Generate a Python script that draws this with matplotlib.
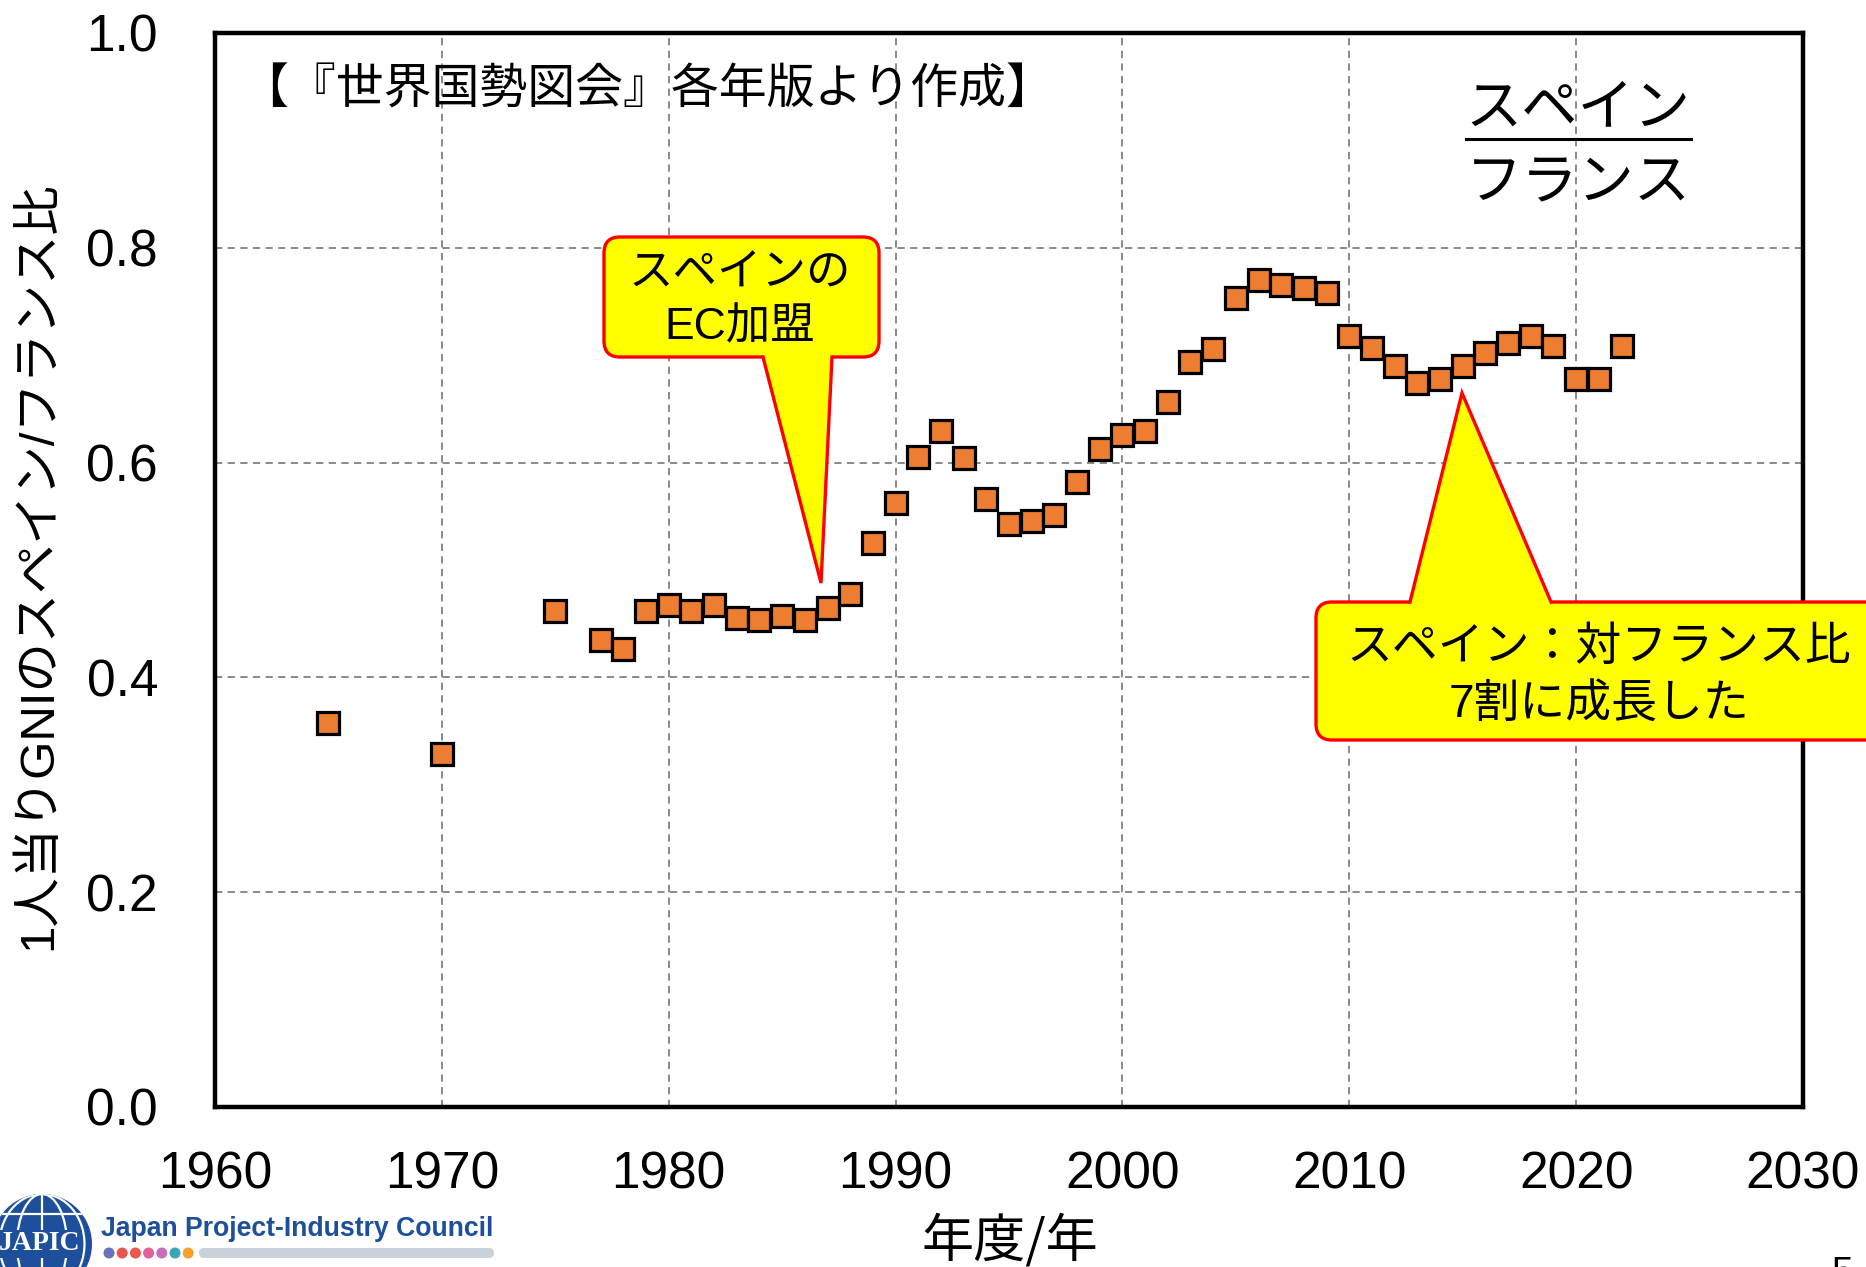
import matplotlib
matplotlib.use('Agg')
import matplotlib.pyplot as plt
import matplotlib.transforms as mtransforms
from matplotlib.patches import FancyBboxPatch, Polygon, Circle, Ellipse
from matplotlib.lines import Line2D

# ---------------- data ----------------
years = [1965, 1970, 1975, 1977, 1978, 1979, 1980, 1981, 1982, 1983, 1984,
         1985, 1986, 1987, 1988, 1989, 1990, 1991, 1992, 1993, 1994, 1995,
         1996, 1997, 1998, 1999, 2000, 2001, 2002, 2003, 2004, 2005, 2006,
         2007, 2008, 2009, 2010, 2011, 2012, 2013, 2014, 2015, 2016, 2017,
         2018, 2019, 2020, 2021, 2022]
ratio = [0.358, 0.329, 0.462, 0.435, 0.426, 0.462, 0.467, 0.462, 0.467, 0.455,
         0.453, 0.457, 0.453, 0.465, 0.478, 0.525, 0.562, 0.605, 0.629, 0.604,
         0.566, 0.543, 0.546, 0.551, 0.582, 0.613, 0.626, 0.629, 0.656, 0.694,
         0.706, 0.753, 0.770, 0.765, 0.763, 0.758, 0.718, 0.707, 0.690, 0.674,
         0.678, 0.690, 0.702, 0.711, 0.718, 0.709, 0.678, 0.678, 0.709]
x_ticks = [1960, 1970, 1980, 1990, 2000, 2010, 2020, 2030]
y_ticks = [0.0, 0.2, 0.4, 0.6, 0.8, 1.0]

ylabel_text = '1人当りGNIのスペイン/フランス比'
xlabel_text = '年度/年'
source_text = '【『世界国勢図会』各年版より作成】'
numer_text = 'スペイン'
denom_text = 'フランス'
callout1_text = 'スペインの\nEC加盟'
callout2_text = 'スペイン：対フランス比\n7割に成長した'
org_text = 'Japan Project-Industry Council'

# ---------------- figure ----------------
W, H = 1866, 1267
fig = plt.figure(figsize=(W / 100, H / 100), dpi=100)
px = mtransforms.Affine2D().scale(1 / W, -1 / H).translate(0, 1) + fig.transFigure

MIX = ['Liberation Sans', 'Noto Sans CJK JP', 'DejaVu Sans']
JP = ['Noto Sans CJK JP', 'DejaVu Sans']

ax = fig.add_axes([215 / W, 1 - 1107 / H, (1803 - 215) / W, (1107 - 33) / H])
ax.set_xlim(1960, 2030)
ax.set_ylim(0, 1.0)
ax.set_xticks(x_ticks)
ax.set_yticks(y_ticks)
ax.set_xticklabels([str(v) for v in x_ticks])
ax.set_yticklabels(['%.1f' % v for v in y_ticks])
ax.tick_params(axis='both', length=0, labelsize=37)
ax.tick_params(axis='x', pad=31)
ax.tick_params(axis='y', pad=41)
for lab in ax.get_xticklabels() + ax.get_yticklabels():
    lab.set_fontfamily('Liberation Sans')
for s in ax.spines.values():
    s.set_linewidth(3.2)
    s.set_color('black')
ax.set_axisbelow(True)
ax.grid(True, color='#808080', linestyle=(0, (4, 3)), linewidth=1.3)

ax.plot(years, ratio, linestyle='none', marker='s', markersize=16,
        markerfacecolor='#ed7d31', markeredgecolor='black', markeredgewidth=2.3,
        clip_on=False, zorder=4)

ax.set_ylabel(ylabel_text, fontsize=35.5, family=MIX, va='center', ha='center')
ax.yaxis.set_label_coords(39, 566, transform=px)
ax.set_xlabel(xlabel_text, fontsize=37.5, family=JP, va='center', ha='center')
ax.xaxis.set_label_coords(1010, 1242, transform=px)

# source note
ax.text(240, 90, source_text, transform=px, fontsize=34.5, family=JP,
        ha='left', va='center', zorder=6)

# Spain / France fraction label
ax.text(1578, 108, numer_text, transform=px, fontsize=40.5, family=JP,
        ha='center', va='center', zorder=6)
ax.add_line(Line2D([1466, 1691], [139, 139], transform=px, color='black',
                   lw=2.2, clip_on=False, zorder=6))
ax.text(1578, 184, denom_text, transform=px, fontsize=40.5, family=JP,
        ha='center', va='center', zorder=6)


def callout(x0, y0, x1, y1, base_l, base_r, tip, text, tx, ty, fs):
    box = FancyBboxPatch((x0, y0), x1 - x0, y1 - y0,
                         boxstyle='round,pad=0,rounding_size=16',
                         transform=px, facecolor='#ffff00', edgecolor='#ff0000',
                         linewidth=2.4, clip_on=False, zorder=5)
    ax.add_patch(box)
    cy = (y0 + y1) / 2
    d = 6 if cy > base_l[1] else -6
    poly = Polygon([base_l, tip, base_r, (base_r[0], base_r[1] + d),
                    (base_l[0], base_l[1] + d)], closed=True, transform=px,
                   facecolor='#ffff00', edgecolor='none', clip_on=False, zorder=5.5)
    ax.add_patch(poly)
    ax.add_line(Line2D([base_l[0], tip[0], base_r[0]], [base_l[1], tip[1], base_r[1]],
                       transform=px, color='#ff0000', lw=2.4, clip_on=False,
                       zorder=5.6, solid_joinstyle='miter'))
    ax.text(tx, ty, text, transform=px, fontsize=fs, family=MIX, ha='center',
            va='center', linespacing=1.38, zorder=6)


callout(604, 237, 879, 357, (763, 357), (832, 357), (821, 583),
        callout1_text, 740, 301, 32)
callout(1316, 602, 1900, 740, (1410, 602), (1551, 602), (1462, 393),
        callout2_text, 1599, 676, 33)

# page number
fig.text(1842, 1256, '5', transform=px, fontsize=28, family='Liberation Sans',
         ha='center', va='top')

# ---------------- logo ----------------
blue = '#1d4f9c'
globe = Circle((42, 1244), 50, transform=px, facecolor=blue, edgecolor='none')
fig.add_artist(globe)
glines = [
    Line2D([42, 42], [1190, 1300], transform=px, color='white', lw=1.6),
    Line2D([-10, 100], [1214, 1214], transform=px, color='white', lw=1.6),
    Line2D([-10, 100], [1274, 1274], transform=px, color='white', lw=1.6),
]
for gl in glines:
    gl.set_clip_path(globe)
    fig.add_artist(gl)
for wdt in (50, 85):
    e = Ellipse((42, 1244), wdt, 100, transform=px, facecolor='none',
                edgecolor='white', lw=1.6)
    e.set_clip_path(globe)
    fig.add_artist(e)
fig.text(40, 1244, 'JAPIC', transform=px, fontsize=20, family='Liberation Serif',
         fontweight='bold', color='white', ha='center', va='center',
         bbox=dict(facecolor=blue, edgecolor='none', pad=1))
fig.text(101, 1229, org_text, transform=px, fontsize=19.2, family='Liberation Sans',
         fontweight='bold', color=blue, ha='left', va='center')
dot_colors = ['#6a6fbf', '#e8544e', '#e8584c', '#e0609a', '#c86cc0', '#3aa6b8', '#f5a02c']
for i, c in enumerate(dot_colors):
    fig.add_artist(Circle((109 + i * 13.2, 1253), 5.5, transform=px,
                          facecolor=c, edgecolor='none'))
fig.add_artist(FancyBboxPatch((199, 1248), 295, 10,
                              boxstyle='round,pad=0,rounding_size=5', transform=px,
                              facecolor='#c9d1d9', edgecolor='none'))

fig.savefig('out.png', dpi=100)
